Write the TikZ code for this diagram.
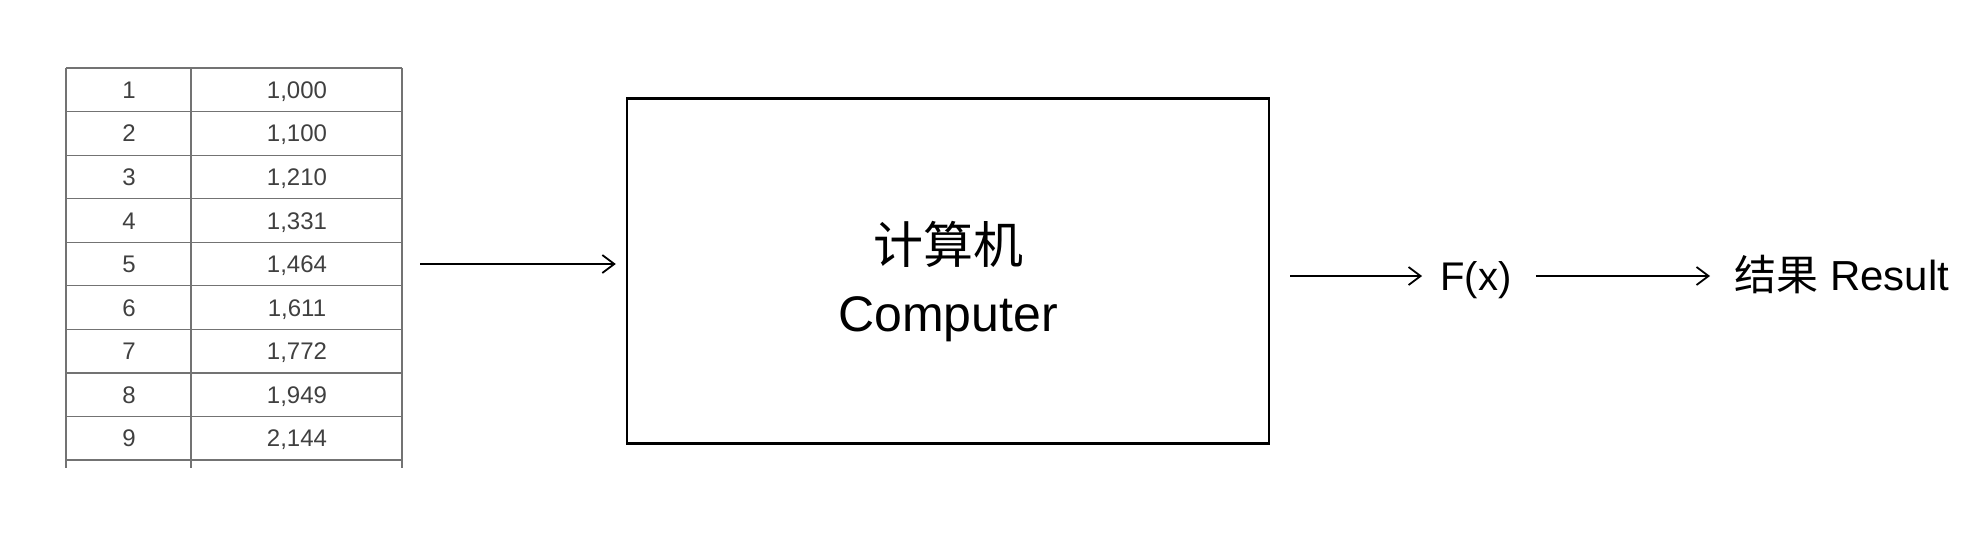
\documentclass[tikz,border=0pt]{standalone}
\usepackage{fontspec}
\setmainfont{Liberation Sans}
\newfontfamily\cjk{Noto Sans CJK SC}
\usetikzlibrary{arrows.meta}

\begin{document}
\begin{tikzpicture}[x = 0.5pt, y = -0.5pt,
    grid/.style = {draw = black!55, line width = 0.6pt},
    cell/.style = {inner sep = 0pt, text height = 8.6pt, text depth = 0pt, text = black!75,
        font = \fontsize{12}{14}\selectfont},
    box/.style = {draw, line width = 1.2pt, minimum width = 321pt, minimum height = 172.5pt},
    boxtext/.style = {align = center, font = \fontsize{25}{34}\selectfont},
    txt/.style = {inner sep = 0pt, text height = 14.5pt, text depth = 0pt},
    arr/.style = {-{Straight Barb[length = 6pt, width = 9pt]}, line width = 0.9pt}]
    \fill[white] (0,0) rectangle (1982,538);
    \useasboundingbox (0,0) rectangle (1982,538);
    % table of values
    \foreach \r in {0,...,9}
        \draw[grid] (66, 68 + 43.56*\r) -- (402, 68 + 43.56*\r);
    \foreach \c in {66, 191, 402}
        \draw[grid] (\c, 68) -- (\c, 468);
    \foreach \i/\v in {1/{1,000}, 2/{1,100}, 3/{1,210}, 4/{1,331}, 5/{1,464},
                       6/{1,611}, 7/{1,772}, 8/{1,949}, 9/{2,144}} {
        \node[cell] (k\i) at (129, 68 + 43.56*\i - 21.78) {\i};
        \node[cell] (v\i) at (297, 68 + 43.56*\i - 21.78) {\v};
    }
    \coordinate (tab) at (402, 264);
    % computer and output
    \node[box] (comp) at (948, 271) {};
    \node[boxtext, yshift = -5.5pt] (comp-text) at (comp) {{\cjk 计算机}\\Computer};
    \node[txt, font = \fontsize{20}{24}\selectfont] (fx) at (1476, 276) {F(x)};
    \node[txt, anchor = west, font = \fontsize{21}{25}\selectfont] (res) at (1734, 276) {{\cjk 结果} Result};
    \draw[arr, shorten <= 9pt, shorten >= 5pt] (tab) -- (comp.west |- tab);
    \draw[arr, shorten <= 10pt, shorten >= 9pt] (comp.east |- fx) -- (fx.west);
    \draw[arr, shorten <= 12pt, shorten >= 12pt] (fx.east) -- (res.west);
\end{tikzpicture}
\end{document}
